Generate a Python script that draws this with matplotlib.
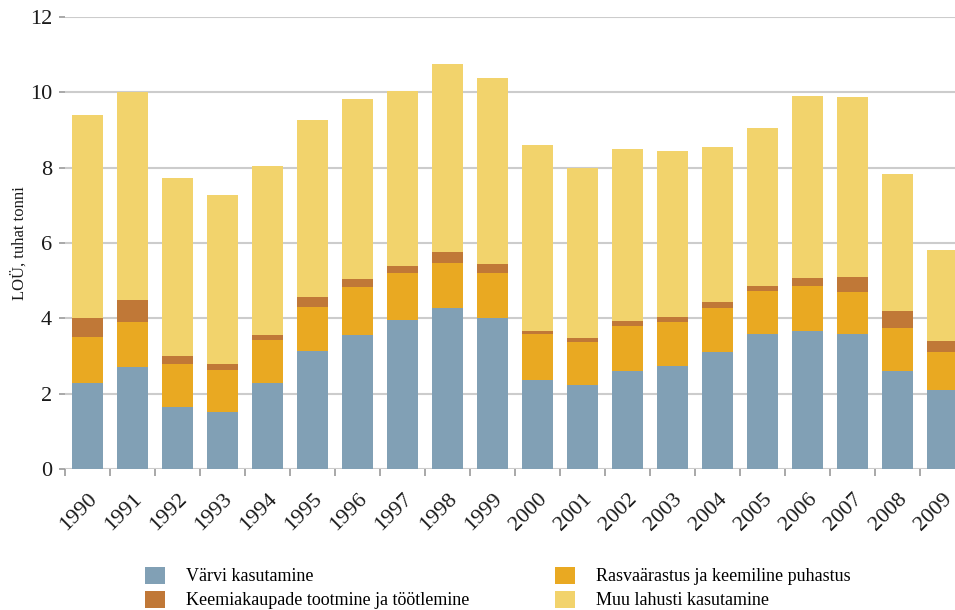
import numpy as np
import matplotlib.pyplot as plt
from matplotlib.patches import Patch

# Values (thousand tonnes)
years = [str(y) for y in range(1990, 2010)]
varvi = [2.28, 2.71, 1.65, 1.51, 2.28, 3.13, 3.56, 3.96, 4.28, 4.01,
         2.36, 2.23, 2.60, 2.74, 3.11, 3.58, 3.66, 3.58, 2.60, 2.10]
rasva = [1.23, 1.19, 1.14, 1.12, 1.14, 1.17, 1.27, 1.24, 1.19, 1.19,
         1.22, 1.14, 1.20, 1.16, 1.16, 1.14, 1.20, 1.12, 1.14, 1.01]
keemia = [0.49, 0.59, 0.21, 0.16, 0.14, 0.27, 0.21, 0.19, 0.29, 0.24,
          0.08, 0.11, 0.13, 0.14, 0.16, 0.14, 0.21, 0.40, 0.45, 0.29]
muu = [5.40, 5.52, 4.72, 4.48, 4.48, 4.69, 4.78, 4.64, 4.99, 4.94,
       4.94, 4.51, 4.56, 4.40, 4.12, 4.19, 4.83, 4.78, 3.64, 2.41]

labels = ['Värvi kasutamine', 'Rasvaärastus ja keemiline puhastus',
          'Keemiakaupade tootmine ja töötlemine', 'Muu lahusti kasutamine']
colors = ['#81a0b5', '#e9a922', '#c07837', '#f2d36c']

plt.rcParams['font.family'] = ['Liberation Serif', 'DejaVu Serif']

fig = plt.figure(figsize=(9.55, 6.10), dpi=100)
ax = fig.add_axes([0.068, 0.231, 0.932, 0.741])

x = np.arange(len(years))
bottom = np.zeros(len(years))
for vals, col in zip([varvi, rasva, keemia, muu], colors):
    ax.bar(x, vals, width=0.69, bottom=bottom, color=col, zorder=2)
    bottom += np.array(vals)

ax.set_ylim(0, 12)
ax.set_xlim(-0.5, 19.28)
ax.set_yticks(range(0, 13, 2))
ax.yaxis.grid(True, color='#cccccc', linewidth=1.5, zorder=0)
for s in ax.spines.values():
    s.set_visible(False)

ax.tick_params(axis='y', length=4.3, width=1.2, color='#999999', pad=5,
               labelsize=16, labelcolor='#1a1a1a')
ax.set_xticks(x)
ax.set_xticklabels(years, rotation=45, ha='right', rotation_mode='anchor',
                   fontsize=16, color='#1a1a1a')
ax.tick_params(axis='x', length=0, pad=15)
ax.set_xticks(x - 0.5, minor=True)
ax.tick_params(axis='x', which='minor', length=5, width=1.2, color='#999999')

ax.set_ylabel('LOÜ, tuhat tonni', fontsize=12, color='#1a1a1a')
ax.yaxis.set_label_coords(-0.042, 0.5)

# legend: columns filled top to bottom
order = [0, 2, 1, 3]
handles = [Patch(facecolor=colors[i]) for i in order]
fig.legend(handles, [labels[i] for i in order], ncol=2, loc='upper left',
           bbox_to_anchor=(0.152, 0.071), frameon=False, fontsize=13,
           handlelength=1.1, handleheight=1.1, handletextpad=1.15,
           columnspacing=4.75, labelspacing=0.28, borderaxespad=0,
           borderpad=0)

fig.savefig('out.png', dpi=100)
